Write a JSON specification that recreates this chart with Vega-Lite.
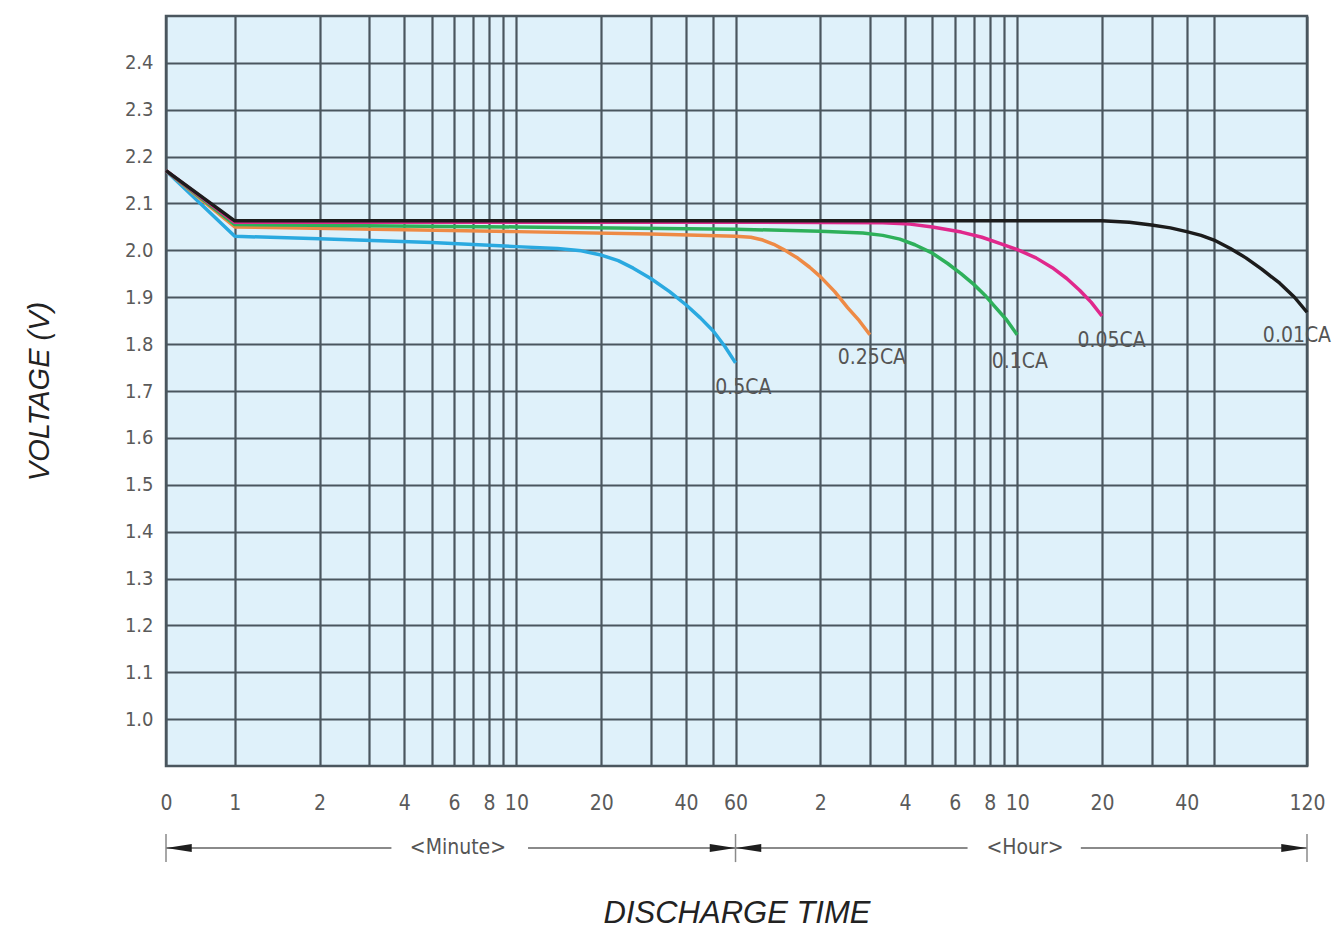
{
  "$schema": "https://vega.github.io/schema/vega-lite/v6.json",
  "description": "Discharge characteristics: voltage vs discharge time at several rates",
  "width": 1141,
  "height": 750,
  "autosize": "none",
  "padding": {"left": 166, "top": 16, "right": 33, "bottom": 174},
  "background": "white",
  "view": {"fill": "#dff1fa", "stroke": "#4a565e", "strokeWidth": 2.5},
  "datasets": {
    "curves": [
      {"rate": "0.5CA", "t": 0.57, "v": 2.17},
      {"rate": "0.5CA", "t": 1, "v": 2.03},
      {"rate": "0.5CA", "t": 2, "v": 2.025},
      {"rate": "0.5CA", "t": 5, "v": 2.017},
      {"rate": "0.5CA", "t": 10, "v": 2.008},
      {"rate": "0.5CA", "t": 14, "v": 2.004},
      {"rate": "0.5CA", "t": 17, "v": 1.999},
      {"rate": "0.5CA", "t": 20, "v": 1.99},
      {"rate": "0.5CA", "t": 23, "v": 1.978},
      {"rate": "0.5CA", "t": 26, "v": 1.962},
      {"rate": "0.5CA", "t": 30, "v": 1.94},
      {"rate": "0.5CA", "t": 35, "v": 1.912},
      {"rate": "0.5CA", "t": 40, "v": 1.884},
      {"rate": "0.5CA", "t": 45, "v": 1.856},
      {"rate": "0.5CA", "t": 50, "v": 1.828},
      {"rate": "0.5CA", "t": 55, "v": 1.795},
      {"rate": "0.5CA", "t": 60, "v": 1.76},
      {"rate": "0.25CA", "t": 0.57, "v": 2.17},
      {"rate": "0.25CA", "t": 1, "v": 2.05},
      {"rate": "0.25CA", "t": 10, "v": 2.04},
      {"rate": "0.25CA", "t": 30, "v": 2.035},
      {"rate": "0.25CA", "t": 60, "v": 2.03},
      {"rate": "0.25CA", "t": 68, "v": 2.028},
      {"rate": "0.25CA", "t": 75, "v": 2.022},
      {"rate": "0.25CA", "t": 82, "v": 2.013},
      {"rate": "0.25CA", "t": 90, "v": 2.0},
      {"rate": "0.25CA", "t": 100, "v": 1.983},
      {"rate": "0.25CA", "t": 110, "v": 1.964},
      {"rate": "0.25CA", "t": 120, "v": 1.944},
      {"rate": "0.25CA", "t": 135, "v": 1.912},
      {"rate": "0.25CA", "t": 150, "v": 1.878},
      {"rate": "0.25CA", "t": 165, "v": 1.85},
      {"rate": "0.25CA", "t": 180, "v": 1.82},
      {"rate": "0.1CA", "t": 0.57, "v": 2.17},
      {"rate": "0.1CA", "t": 1, "v": 2.055},
      {"rate": "0.1CA", "t": 10, "v": 2.05},
      {"rate": "0.1CA", "t": 60, "v": 2.045},
      {"rate": "0.1CA", "t": 120, "v": 2.041},
      {"rate": "0.1CA", "t": 170, "v": 2.037},
      {"rate": "0.1CA", "t": 200, "v": 2.032},
      {"rate": "0.1CA", "t": 230, "v": 2.024},
      {"rate": "0.1CA", "t": 260, "v": 2.012},
      {"rate": "0.1CA", "t": 300, "v": 1.994},
      {"rate": "0.1CA", "t": 340, "v": 1.972},
      {"rate": "0.1CA", "t": 380, "v": 1.95},
      {"rate": "0.1CA", "t": 420, "v": 1.928},
      {"rate": "0.1CA", "t": 460, "v": 1.905},
      {"rate": "0.1CA", "t": 500, "v": 1.88},
      {"rate": "0.1CA", "t": 550, "v": 1.852},
      {"rate": "0.1CA", "t": 600, "v": 1.82},
      {"rate": "0.05CA", "t": 0.57, "v": 2.17},
      {"rate": "0.05CA", "t": 1, "v": 2.06},
      {"rate": "0.05CA", "t": 60, "v": 2.06},
      {"rate": "0.05CA", "t": 200, "v": 2.059},
      {"rate": "0.05CA", "t": 250, "v": 2.056},
      {"rate": "0.05CA", "t": 300, "v": 2.05},
      {"rate": "0.05CA", "t": 380, "v": 2.039},
      {"rate": "0.05CA", "t": 450, "v": 2.028},
      {"rate": "0.05CA", "t": 520, "v": 2.015},
      {"rate": "0.05CA", "t": 610, "v": 2.0},
      {"rate": "0.05CA", "t": 700, "v": 1.984},
      {"rate": "0.05CA", "t": 800, "v": 1.963},
      {"rate": "0.05CA", "t": 900, "v": 1.94},
      {"rate": "0.05CA", "t": 1000, "v": 1.915},
      {"rate": "0.05CA", "t": 1100, "v": 1.889},
      {"rate": "0.05CA", "t": 1200, "v": 1.86},
      {"rate": "0.01CA", "t": 0.57, "v": 2.17},
      {"rate": "0.01CA", "t": 1, "v": 2.063},
      {"rate": "0.01CA", "t": 60, "v": 2.063},
      {"rate": "0.01CA", "t": 600, "v": 2.063},
      {"rate": "0.01CA", "t": 1200, "v": 2.063},
      {"rate": "0.01CA", "t": 1500, "v": 2.06},
      {"rate": "0.01CA", "t": 1800, "v": 2.054},
      {"rate": "0.01CA", "t": 2100, "v": 2.048},
      {"rate": "0.01CA", "t": 2400, "v": 2.04},
      {"rate": "0.01CA", "t": 2700, "v": 2.032},
      {"rate": "0.01CA", "t": 3000, "v": 2.022},
      {"rate": "0.01CA", "t": 3500, "v": 2.004},
      {"rate": "0.01CA", "t": 4050, "v": 1.984},
      {"rate": "0.01CA", "t": 4700, "v": 1.96},
      {"rate": "0.01CA", "t": 5570, "v": 1.93},
      {"rate": "0.01CA", "t": 6400, "v": 1.9},
      {"rate": "0.01CA", "t": 7200, "v": 1.868}
    ],
    "rate_labels": [
      {"rate": "0.5CA", "t": 64, "v": 1.706},
      {"rate": "0.25CA", "t": 183, "v": 1.77},
      {"rate": "0.1CA", "t": 613, "v": 1.762},
      {"rate": "0.05CA", "t": 1298, "v": 1.807},
      {"rate": "0.01CA", "t": 6550, "v": 1.817}
    ],
    "span_lines": [
      {"t": 0.57, "t2": 3.6},
      {"t": 11, "t2": 60},
      {"t": 60, "t2": 400},
      {"t": 1010, "t2": 7200}
    ],
    "span_ends": [
      {"t": 0.57},
      {"t": 60},
      {"t": 7200}
    ],
    "span_heads": [
      {"t": 0.57, "dir": "left"},
      {"t": 60, "dir": "right"},
      {"t": 60, "dir": "left"},
      {"t": 7200, "dir": "right"}
    ],
    "span_text": [
      {"t": 6.2, "unit": "<Minute>"},
      {"t": 640, "unit": "<Hour>"}
    ]
  },
  "encoding": {
    "x": {
      "field": "t",
      "type": "quantitative",
      "scale": {
        "type": "log",
        "domain": [0.57, 3000, 7200],
        "range": [0, 1048, 1141],
        "nice": false
      },
      "axis": {
        "title": "DISCHARGE TIME",
        "values": [0.57, 1, 2, 3, 4, 5, 6, 7, 8, 9, 10, 20, 30, 40, 50, 60, 120, 180, 240, 300, 360, 420, 480, 540, 600, 1200, 1800, 2400, 3000, 7200],
        "labelExpr": "datum.value < 0.9 ? '0' : indexof([1,2,4,6,8,10,20,40,60], datum.value) >= 0 ? format(datum.value, 'd') : indexof([120,240,360,480,600,1200,2400,7200], datum.value) >= 0 ? format(datum.value / 60, 'd') : ''",
        "labelOverlap": false,
        "labelFlush": false,
        "labelFont": "Liberation Sans Narrow, DejaVu Sans Condensed, sans-serif",
        "labelFontSize": 21,
        "labelColor": "#5a5a5a",
        "labelPadding": 26,
        "ticks": false,
        "domain": false,
        "grid": true,
        "gridColor": "#4a565e",
        "gridWidth": 2.2,
        "gridOpacity": 1,
        "titleFont": "Liberation Sans, sans-serif",
        "titleFontSize": 31,
        "titleFontStyle": "italic",
        "titleFontWeight": "normal",
        "titleColor": "#222222",
        "titlePadding": 85
      }
    }
  },
  "layer": [
    {
      "data": {"name": "curves"},
      "mark": {"type": "line", "interpolate": "linear", "strokeWidth": 3.5, "strokeJoin": "round"},
      "encoding": {
        "y": {
          "field": "v",
          "type": "quantitative",
          "scale": {"domain": [0.9, 2.5], "nice": false, "zero": false},
          "axis": {
            "title": "VOLTAGE (V)",
            "values": [1.0, 1.1, 1.2, 1.3, 1.4, 1.5, 1.6, 1.7, 1.8, 1.9, 2.0, 2.1, 2.2, 2.3, 2.4],
            "format": ".1f",
            "labelFont": "Liberation Sans Narrow, DejaVu Sans Condensed, sans-serif",
            "labelFontSize": 20,
            "labelColor": "#5a5a5a",
            "labelPadding": 13,
            "ticks": false,
            "domain": false,
            "grid": true,
            "gridColor": "#4a565e",
            "gridWidth": 2.2,
            "gridOpacity": 1,
            "titleFont": "Liberation Sans, sans-serif",
            "titleFontSize": 29,
            "titleFontStyle": "italic",
            "titleFontWeight": "normal",
            "titleColor": "#222222",
            "titlePadding": 70
          }
        },
        "color": {
          "field": "rate",
          "type": "nominal",
          "scale": {
            "domain": ["0.5CA", "0.25CA", "0.1CA", "0.05CA", "0.01CA"],
            "range": ["#2aa9e0", "#ee8a45", "#2eb05a", "#e0288c", "#1c1c1c"]
          },
          "legend": null
        }
      }
    },
    {
      "data": {"name": "rate_labels"},
      "mark": {
        "type": "text",
        "font": "Liberation Sans Narrow, DejaVu Sans Condensed, sans-serif",
        "fontSize": 21,
        "color": "#555555"
      },
      "encoding": {
        "y": {"field": "v", "type": "quantitative", "scale": {"domain": [0.9, 2.5], "nice": false, "zero": false}},
        "text": {"field": "rate"}
      }
    },
    {
      "data": {"name": "span_lines"},
      "mark": {"type": "rule", "color": "#8a8a8a", "strokeWidth": 2, "clip": false},
      "encoding": {"x2": {"field": "t2"}, "y": {"datum": 0.725, "type": "quantitative"}}
    },
    {
      "data": {"name": "span_ends"},
      "mark": {"type": "rule", "color": "#8a8a8a", "strokeWidth": 1.5, "clip": false},
      "encoding": {"y": {"datum": 0.755, "type": "quantitative"}, "y2": {"datum": 0.695}}
    },
    {
      "data": {"name": "span_heads"},
      "transform": [{"filter": "datum.dir == 'left'"}],
      "mark": {"type": "point", "shape": "M -1 0 L 1 -0.32 L 1 0.32 Z", "filled": true, "size": 650, "color": "#1e1e1e", "opacity": 1, "xOffset": 13, "clip": false},
      "encoding": {"y": {"datum": 0.725, "type": "quantitative"}}
    },
    {
      "data": {"name": "span_heads"},
      "transform": [{"filter": "datum.dir == 'right'"}],
      "mark": {"type": "point", "shape": "M 1 0 L -1 -0.32 L -1 0.32 Z", "filled": true, "size": 650, "color": "#1e1e1e", "opacity": 1, "xOffset": -13, "clip": false},
      "encoding": {"y": {"datum": 0.725, "type": "quantitative"}}
    },
    {
      "data": {"name": "span_text"},
      "mark": {
        "type": "text",
        "font": "Liberation Sans Narrow, DejaVu Sans Condensed, sans-serif",
        "fontSize": 21,
        "color": "#555555",
        "clip": false
      },
      "encoding": {"text": {"field": "unit"}, "y": {"datum": 0.725, "type": "quantitative"}}
    }
  ]
}
